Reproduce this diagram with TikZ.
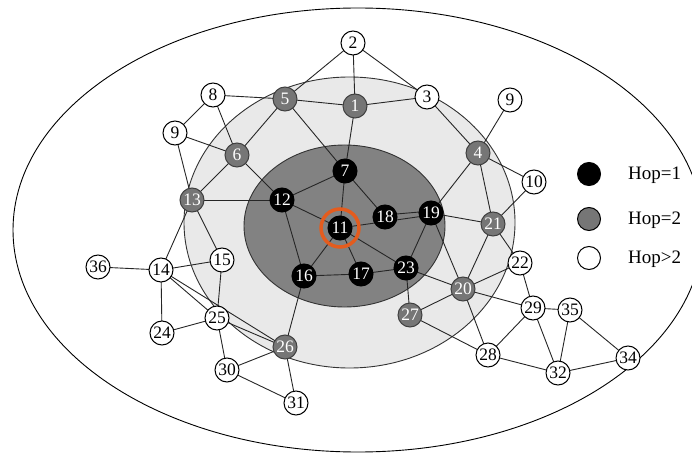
\documentclass[tikz,border=0pt]{standalone}
\usepackage{fontspec}
\setmainfont{Liberation Serif}
\definecolor{lightzone}{RGB}{233,233,233}
\definecolor{darkzone}{RGB}{130,130,130}
\definecolor{hopgray}{RGB}{118,118,118}
\definecolor{ringorange}{RGB}{228,92,30}
\pgfdeclarelayer{zones}
\pgfdeclarelayer{links}
\pgfsetlayers{zones,links,main}
\begin{document}
\begin{tikzpicture}[x=1pt,y=-1pt,
  hopone/.style={circle,fill=black,draw=black,text=white,minimum size=24pt,
    inner sep=0pt,line width=1pt,font=\fontsize{17.5}{17.5}\selectfont},
  hoptwo/.style={hopone,fill=hopgray,draw=black!75},
  hopfar/.style={hopone,fill=white,text=black},
  keydot/.style={circle,minimum size=23pt,inner sep=0pt,line width=1pt,draw=black},
  keytext/.style={anchor=west,inner sep=0pt,font=\fontsize{19}{19}\selectfont},
  link/.style={line width=0.9pt,draw=black!85},
  zone/.style={line width=0.9pt,draw=black!80}
]
\useasboundingbox (0,0) rectangle (692,454);

% hop zones
\begin{pgfonlayer}{zones}
\fill[white] (0,0) rectangle (692,454);
\draw[line width=0.9pt] (358,230) ellipse [x radius=345, y radius=222];
\filldraw[zone,fill=lightzone] (349.5,222.5) ellipse [x radius=165.5, y radius=145.5];
\filldraw[zone,fill=darkzone] (344.5,226) ellipse [x radius=100.5, y radius=81];
\end{pgfonlayer}

% nodes
\node[hopone] (n11) at (340,228) {11};
\node[hopone] (n7)  at (345,171) {7};
\node[hopone] (n12) at (282,200) {12};
\node[hopone] (n18) at (385,217) {18};
\node[hopone] (n19) at (431,213) {19};
\node[hopone] (n16) at (304,276) {16};
\node[hopone] (n17) at (361,274) {17};
\node[hopone] (n23) at (406,268) {23};

\node[hoptwo] (n1)  at (355,106) {1};
\node[hoptwo] (n5)  at (285,99)  {5};
\node[hoptwo] (n6)  at (237,155) {6};
\node[hoptwo] (n13) at (192,200) {13};
\node[hoptwo] (n4)  at (478,153) {4};
\node[hoptwo] (n21) at (493,224) {21};
\node[hoptwo] (n20) at (463,289) {20};
\node[hoptwo] (n27) at (410,315) {27};
\node[hoptwo] (n26) at (285,347) {26};

\node[hopfar] (n2)  at (353,43)  {2};
\node[hopfar] (n3)  at (427,97)  {3};
\node[hopfar] (n8)  at (213,95)  {8};
\node[hopfar] (n9a) at (175,133) {9};
\node[hopfar] (n9b) at (510,100) {9};
\node[hopfar] (n10) at (534,182) {10};
\node[hopfar] (n22) at (520,263) {22};
\node[hopfar] (n29) at (533,308) {29};
\node[hopfar] (n35) at (570,310) {35};
\node[hopfar] (n28) at (488,355) {28};
\node[hopfar] (n32) at (558,373) {32};
\node[hopfar] (n34) at (628,358) {34};
\node[hopfar] (n36) at (98,267)  {36};
\node[hopfar] (n14) at (161,270) {14};
\node[hopfar] (n15) at (222,260) {15};
\node[hopfar] (n24) at (162,333) {24};
\node[hopfar] (n25) at (217,318) {25};
\node[hopfar] (n30) at (227,370) {30};
\node[hopfar] (n31) at (296,403) {31};

% ring marking the source node
\draw[ringorange,line width=3.5pt] (n11.center) circle [radius=19];

% links
\begin{pgfonlayer}{links}
\foreach \a/\b in {n2/n5,n2/n1,n2/n3,n5/n1,n1/n3,n8/n5,n8/n9a,n8/n6,n9a/n6,
  n9a/n13,n5/n6,n5/n7,n1/n7,n6/n13,n6/n12,n13/n12,n13/n14,n13/n15,n3/n4,
  n9b/n4,n4/n10,n4/n21,n4/n19,n10/n21,n19/n21,n21/n20,n21/n22,n19/n20,
  n19/n23,n7/n12,n7/n11,n7/n18,n12/n11,n12/n16,n11/n16,n11/n17,n11/n23,
  n16/n17,n17/n23,n23/n27,n23/n20,n16/n26,n27/n20,n27/n28,n20/n22,n20/n29,
  n20/n28,n22/n29,n29/n35,n29/n28,n29/n32,n35/n32,n35/n34,n28/n32,n32/n34,
  n36/n14,n14/n15,n14/n24,n14/n25,n14/n26,n15/n25,n24/n25,n25/n30,n25/n26,
  n26/n30,n26/n31,n30/n31}
  \draw[link] (\a.center) -- (\b.center);
\draw[link] (n11.center) -- ([yshift=-2pt]n19.center);
\draw[link] ([yshift=2pt]n18.center) -- ([yshift=2pt]n19.center);
\end{pgfonlayer}

% legend
\node[keydot,fill=black]   (k1) at (589,174) {};
\node[keydot,fill=hopgray] (k2) at (589,219) {};
\node[keydot,fill=white]   (k3) at (589,258) {};
\node[keytext] (t1) at (628,175) {Hop=1};
\node[keytext] (t2) at (628,220) {Hop=2};
\node[keytext] (t3) at (628,259) {Hop>2};
\end{tikzpicture}
\end{document}
